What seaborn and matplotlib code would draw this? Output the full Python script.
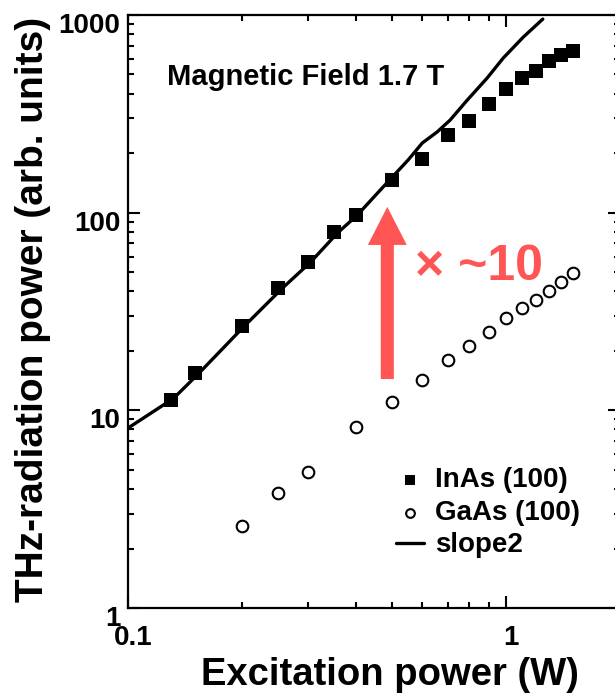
import matplotlib
matplotlib.use("Agg")
import matplotlib.pyplot as plt
import matplotlib.ticker as mticker
import matplotlib.transforms as mtrans
import seaborn as sns

# InAs (100) squares
inas_power = [0.13, 0.15, 0.2, 0.25, 0.3, 0.35, 0.4, 0.5, 0.6, 0.7, 0.8, 0.9, 1.0, 1.1, 1.2, 1.3, 1.4, 1.5]
inas_thz = [11.3, 15.4, 26.7, 41.6, 56.3, 79.8, 97, 146, 187, 247, 290, 354, 420, 480, 520, 585, 625, 660]

# GaAs (100) circles
gaas_power = [0.2, 0.25, 0.3, 0.4, 0.5, 0.6, 0.7, 0.8, 0.9, 1.0, 1.1, 1.2, 1.3, 1.4, 1.5]
gaas_thz = [2.6, 3.8, 4.9, 8.2, 11.0, 14.3, 18.0, 21.2, 24.8, 29.3, 32.9, 36.1, 40.1, 44.5, 49.5]

# slope2 reference curve (traced)
slope_x = [0.1, 0.132, 0.154, 0.202, 0.256, 0.304, 0.358, 0.404, 0.473, 0.551, 0.600,
           0.657, 0.711, 0.789, 0.891, 0.982, 1.11, 1.25]
slope_y = [8.13, 11.5, 15.4, 26.4, 41.5, 56.2, 78.9, 97.2, 135, 185, 225,
           256, 294, 371, 480, 605, 773, 953]

x_ticks = [0.1, 1]
x_labels = ["0.1", "1"]
y_ticks = [1, 10, 100, 1000]
y_labels = ["1", "10", "100", "1000"]

sns.set_style("ticks")
plt.rcParams['font.family'] = ['Liberation Sans', 'DejaVu Sans']
plt.rcParams['font.weight'] = 'bold'
plt.rcParams['axes.labelweight'] = 'bold'
plt.rcParams['text.color'] = 'black'
plt.rcParams['axes.labelcolor'] = 'black'

fig = plt.figure(figsize=(6.15, 6.94), dpi=100)
ax = fig.add_axes([0.2081, 0.1239, 0.8, 0.8545])

sns.scatterplot(x=inas_power, y=inas_thz, ax=ax, marker='s', s=105, color='black',
                edgecolor='black', linewidth=0, label='InAs (100)', zorder=3)
sns.scatterplot(x=gaas_power, y=gaas_thz, ax=ax, marker='o', s=70, facecolor='white',
                edgecolor='black', linewidth=1.5, label='GaAs (100)', zorder=3)
sns.lineplot(x=slope_x, y=slope_y, ax=ax, color='black', linewidth=2.4, label='slope2',
             sort=False, zorder=2)

ax.set_xscale('log')
ax.set_yscale('log')
ax.set_xlim(0.1, 2)
ax.set_ylim(1, 1000)

ax.xaxis.set_major_locator(mticker.FixedLocator(x_ticks))
ax.set_xticklabels(x_labels)
ax.yaxis.set_major_locator(mticker.FixedLocator(y_ticks))
ax.set_yticklabels(y_labels)
ax.xaxis.set_minor_locator(mticker.LogLocator(base=10, subs=range(2, 10)))
ax.yaxis.set_minor_locator(mticker.LogLocator(base=10, subs=range(2, 10)))
ax.xaxis.set_minor_formatter(mticker.NullFormatter())
ax.yaxis.set_minor_formatter(mticker.NullFormatter())

ax.tick_params(which='both', direction='in', top=True, right=True, width=1.5, colors='black')
ax.tick_params(which='major', length=8.5)
ax.tick_params(which='minor', length=4.5)
ax.tick_params(axis='x', which='major', labelsize=20, pad=12.5)
ax.tick_params(axis='y', which='major', labelsize=20, pad=5.5)
for sp in ax.spines.values():
    sp.set_linewidth(1.6)
    sp.set_color('black')

# y tick labels sit a little below their ticks in the original
down = mtrans.ScaledTranslation(0, -0.08, fig.dpi_scale_trans)
for lab in ax.get_yticklabels():
    lab.set_transform(lab.get_transform() + down)
right = mtrans.ScaledTranslation(0.05, 0, fig.dpi_scale_trans)
for lab in ax.get_xticklabels():
    lab.set_transform(lab.get_transform() + right)

ax.set_xlabel('Excitation power (W)', fontsize=27.5, va='baseline')
ax.set_ylabel('THz-radiation power (arb. units)', fontsize=28, va='baseline')
ax.xaxis.set_label_coords(0.532, -0.1305)
ax.yaxis.set_label_coords(-0.1728, 0.504)

ax.text(0.127, 442, 'Magnetic Field 1.7 T', fontsize=21, ha='left', va='baseline')

# red arrow and factor
ax.annotate('', xy=(0.485, 107), xytext=(0.485, 14.4),
            arrowprops=dict(arrowstyle='simple,head_length=1.37,head_width=1.4,tail_width=0.47',
                            color='#ff5555', lw=0, mutation_scale=20, shrinkA=0, shrinkB=0))
ax.text(0.575, 45.6, '× ~10', fontsize=36, color='#ff5555', ha='left', va='baseline')

handles, labels = ax.get_legend_handles_labels()
ax.legend(handles, labels, loc='upper left', bbox_to_anchor=(0.545, 0.237), frameon=False,
          fontsize=20, markerscale=0.75, handlelength=1.0, handletextpad=0.4,
          labelspacing=0.23, borderpad=0, borderaxespad=0)

fig.savefig('out.png', dpi=100)
